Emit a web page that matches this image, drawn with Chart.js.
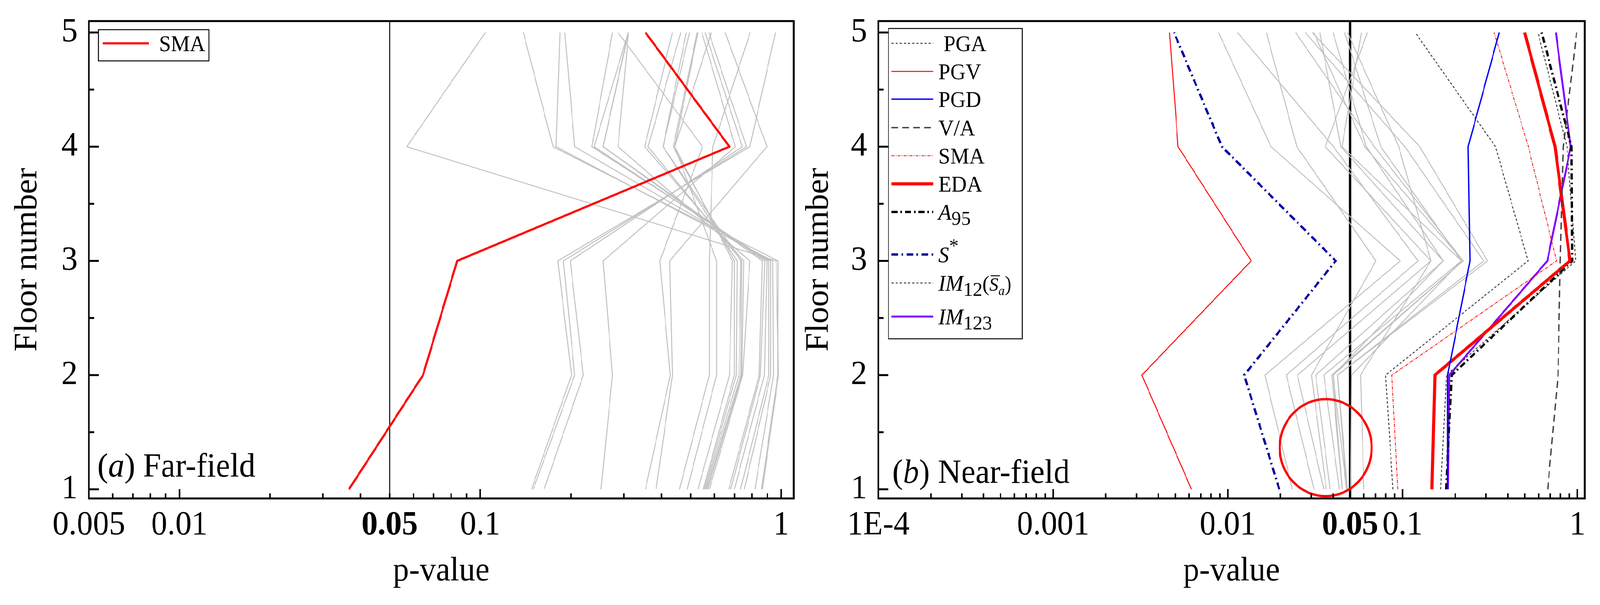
<!DOCTYPE html>
<html lang="en">
<head>
<meta charset="UTF-8">
<title>p-value by floor</title>
<script src="https://cdn.jsdelivr.net/npm/chart.js"></script>
<style>
  html, body { margin: 0; padding: 0; background: #fff; overflow: hidden; }
  #stage { position: absolute; left: 0; top: 0; width: 4268px; height: 1550px; transform-origin: 0 0; }
  .panel { position: absolute; top: 0; }
</style>
</head>
<body>
<div id="stage">
  <canvas id="farChart" class="panel" style="left:0" width="2134" height="1550"></canvas>
  <canvas id="nearChart" class="panel" style="left:2134px" width="2134" height="1550"></canvas>
</div>
<script>
// floors on the y axis, values per series are listed floor 1 -> floor 5
const floors = [1, 2, 3, 4, 5];

// (a) far-field
const farSMA = [0.0366, 0.0645, 0.0838, 0.673, 0.354];
const farOthers = [
  [0.148, 0.201, 0.181, 0.787, 0.957],
  [0.150, 0.206, 0.189, 0.767, 0.575],
  [0.163, 0.220, 0.199, 0.743, 0.559],
  [0.252, 0.275, 0.256, 0.704, 0.545],
  [0.354, 0.428, 0.395, 0.548, 0.287],
  [0.384, 0.435, 0.426, 0.897, 0.651],
  [0.459, 0.577, 0.577, 0.593, 0.789],
  [0.487, 0.610, 0.610, 0.443, 0.586],
  [0.529, 0.673, 0.689, 0.443, 0.529],
  [0.551, 0.699, 0.699, 0.438, 0.526],
  [0.556, 0.709, 0.714, 0.405, 0.496],
  [0.560, 0.724, 0.735, 0.405, 0.484],
  [0.565, 0.735, 0.740, 0.361, 0.464],
  [0.570, 0.740, 0.751, 0.352, 0.435],
  [0.577, 0.745, 0.787, 0.287, 0.311],
  [0.670, 0.845, 0.866, 0.256, 0.311],
  [0.680, 0.853, 0.882, 0.256, 0.310],
  [0.699, 0.879, 0.897, 0.239, 0.310],
  [0.733, 0.910, 0.910, 0.235, 0.275],
  [0.754, 0.923, 0.923, 0.206, 0.191],
  [0.818, 0.943, 0.937, 0.1786, 0.184],
  [0.866, 0.980, 0.963, 0.057, 0.104],
  [0.860, 0.975, 0.977, 0.1745, 0.139]
];

// (b) near-field
const nearPGA   = [0.0881, 0.0798, 0.522, 0.340, 0.118];
const nearPGV   = [0.00619, 0.00322, 0.0136, 0.00519, 0.00464];
const nearPGD   = [0.181, 0.181, 0.243, 0.237, 0.357];
const nearVA    = [0.676, 0.775, 0.798, 0.830, 0.99];
const nearSMA   = [0.0937, 0.0868, 0.760, 0.524, 0.334];
const nearEDA   = [0.147, 0.153, 0.907, 0.745, 0.499];
const nearA95   = [0.177, 0.191, 0.934, 0.925, 0.625];
const nearSstar = [0.0197, 0.0124, 0.0414, 0.00925, 0.00492];
const nearIM12  = [0.165, 0.178, 0.977, 0.872, 0.595];
const nearIM123 = [0.182, 0.185, 0.673, 0.916, 0.753];
const nearOthers = [
  [0.0234, 0.0163, 0.097, 0.01766, 0.00885],
  [0.0311, 0.0216, 0.1224, 0.0402, 0.01135],
  [0.0354, 0.0250, 0.1452, 0.0361, 0.0629],
  [0.0366, 0.0301, 0.0703, 0.0248, 0.0166],
  [0.0385, 0.0318, 0.1707, 0.0443, 0.0336],
  [0.0435, 0.0354, 0.2168, 0.0450, 0.0581],
  [0.0451, 0.0393, 0.2219, 0.0607, 0.0310],
  [0.0451, 0.0400, 0.1707, 0.0620, 0.0400],
  [0.0478, 0.0400, 0.2219, 0.0689, 0.0244],
  [0.0478, 0.0424, 0.291, 0.103, 0.0277],
  [0.0484, 0.0424, 0.306, 0.1253, 0.0304],
  [0.0503, 0.0510, 0.2168, 0.075, 0.0466],
  [0.0600, 0.0574, 0.1452, 0.095, 0.0484]
];

// tick labels
const farTickVals  = [0.005, 0.01, 0.05, 0.1, 1];
const nearTickVals = [0.0001, 0.001, 0.01, 0.05, 0.1, 1];
const tickText = {0.0001: '1E-4', 0.001: '0.001', 0.005: '0.005', 0.01: '0.01', 0.05: '0.05', 0.1: '0.1', 1: '1'};
const floorTicks = [1, 2, 3, 4, 5];

const FONT = '"Liberation Serif", "Times New Roman", serif';
const GRAY = '#C0C0C0';

// stretch the 4268x1550 drawing over whatever the window really is
const sx = window.innerWidth / 4268, sy = window.innerHeight / 1550;
document.getElementById('stage').style.transform = 'scale(' + sx + ',' + sy + ')';
const DPR = (window.devicePixelRatio || 1) * Math.max(sx, sy);

function pts(vals) {
  return vals.map((v, i) => ({x: v, y: floors[i]}));
}

function series(label, vals, color, width, dash) {
  return {
    label: label, data: pts(vals), showLine: true, borderColor: color,
    borderWidth: width, borderDash: dash || [], pointRadius: 0, tension: 0,
    borderCapStyle: 'butt', borderJoinStyle: 'miter', fill: false
  };
}

// draws a label made of pieces (italic, sub/superscript, overline)
function drawRich(ctx, segs, x, y, size) {
  segs.forEach(s => {
    const sz = size * (s.scale || 1);
    ctx.font = (s.it ? 'italic ' : '') + sz + 'px ' + FONT;
    const w = ctx.measureText(s.t).width;
    ctx.fillText(s.t, x, y + (s.dy || 0) * size);
    if (s.bar) ctx.fillRect(x + sz * 0.08, y - sz * 0.82, w, Math.max(2, sz * 0.05));
    x += w;
  });
}

const deco = {
  id: 'deco',
  beforeDatasetsDraw(chart, args, o) {
    const {ctx, chartArea: a, scales: {x}} = chart;
    const xr = x.getPixelForValue(0.05);
    ctx.save();
    ctx.strokeStyle = '#000';
    ctx.lineWidth = o.refWidth;
    ctx.beginPath();
    ctx.moveTo(xr, a.top);
    ctx.lineTo(xr, a.bottom);
    ctx.stroke();
    ctx.restore();
  },
  afterDatasetsDraw(chart, args, o) {
    const {ctx, chartArea: a, scales: {x, y}} = chart;
    ctx.save();

    // red ring around the low floor p-values
    if (o.ring) {
      const x0 = x.getPixelForValue(o.ring.x0), x1 = x.getPixelForValue(o.ring.x1);
      const y0 = y.getPixelForValue(o.ring.y0), y1 = y.getPixelForValue(o.ring.y1);
      ctx.strokeStyle = '#FF0000';
      ctx.lineWidth = 6;
      ctx.beginPath();
      ctx.ellipse((x0 + x1) / 2, (y0 + y1) / 2, Math.abs(x1 - x0) / 2, Math.abs(y1 - y0) / 2, 0, 0, Math.PI * 2);
      ctx.stroke();
    }

    // frame
    ctx.strokeStyle = '#000';
    ctx.lineWidth = 5;
    ctx.strokeRect(a.left, a.top, a.right - a.left, a.bottom - a.top);

    // inward ticks, floors
    ctx.lineWidth = 5;
    for (let f = 1; f <= 5; f += 0.5) {
      const py = y.getPixelForValue(f);
      const len = Number.isInteger(f) ? 27 : 14;
      ctx.beginPath();
      ctx.moveTo(a.left, py);
      ctx.lineTo(a.left + len, py);
      ctx.stroke();
    }
    // inward ticks, log p-value
    ctx.lineWidth = 4;
    const e0 = Math.floor(Math.log10(x.min)), e1 = Math.ceil(Math.log10(x.max));
    for (let e = e0; e <= e1; e++) {
      for (let m = 1; m <= 9; m++) {
        const v = m * Math.pow(10, e);
        if (v < x.min * 0.999 || v > x.max) continue;
        const px = x.getPixelForValue(v);
        const len = m === 1 ? 24 : 13;
        ctx.beginPath();
        ctx.moveTo(px, a.bottom);
        ctx.lineTo(px, a.bottom - len);
        ctx.stroke();
      }
    }

    // panel caption
    ctx.fillStyle = '#000';
    ctx.textBaseline = 'alphabetic';
    ctx.textAlign = 'left';
    drawRich(ctx, o.caption.segs, a.left + o.caption.dx, a.bottom - o.caption.dy, 86);

    // legend box
    const L = o.legend;
    const bx = a.left + L.dx, by = a.top + L.dy;
    ctx.fillStyle = '#fff';
    ctx.fillRect(bx, by, L.w, L.h);
    ctx.strokeStyle = '#000';
    ctx.lineWidth = 2.5;
    ctx.setLineDash([]);
    ctx.strokeRect(bx, by, L.w, L.h);
    L.items.forEach((it, i) => {
      const ds = chart.data.datasets[it.ds];
      const ly = by + L.rows[i];
      ctx.save();
      ctx.strokeStyle = ds.borderColor;
      ctx.lineWidth = ds.borderWidth;
      ctx.setLineDash(ds.borderDash);
      ctx.beginPath();
      ctx.moveTo(bx + L.x0, ly);
      ctx.lineTo(bx + L.x1, ly);
      ctx.stroke();
      ctx.restore();
      ctx.fillStyle = '#000';
      drawRich(ctx, it.segs, bx + L.tx, ly + 20, 57);
    });
    ctx.restore();
  }
};

function axes(xmin, xmax, tickVals, yWidth, yTitlePad) {
  return {
    x: {
      type: 'logarithmic', min: xmin, max: xmax,
      grid: {display: false, drawTicks: false}, border: {display: false},
      afterBuildTicks: s => { s.ticks = tickVals.map(v => ({value: v})); },
      afterFit: s => { s.height = 273; s.paddingLeft = 0; s.paddingRight = 0; },
      ticks: {
        autoSkip: false, maxRotation: 0, padding: 18, color: '#000',
        callback: v => tickText[v],
        font: c => ({family: FONT, size: 86, weight: (c.tick && c.tick.value === 0.05) ? 'bold' : 'normal'})
      },
      title: {display: true, text: 'p-value', color: '#000', font: {family: FONT, size: 86},
              padding: {top: 0, bottom: 34}}
    },
    y: {
      min: 0.92, max: 5.1,
      grid: {display: false, drawTicks: false}, border: {display: false},
      afterBuildTicks: s => { s.ticks = floorTicks.map(v => ({value: v})); },
      afterFit: s => { s.width = yWidth; s.paddingTop = 0; s.paddingBottom = 0; },
      ticks: {padding: 30, color: '#000', font: {family: FONT, size: 86}},
      title: {display: true, text: 'Floor number', color: '#000', font: {family: FONT, size: 86},
              padding: {top: yTitlePad, bottom: 0}}
    }
  };
}

const farSets = [series('SMA', farSMA, '#FF0000', 5.5)]
  .concat(farOthers.map((r, i) => series('far ' + (i + 1), r, GRAY, 2.5)));

new Chart(document.getElementById('farChart'), {
  type: 'scatter',
  data: {datasets: farSets},
  options: {
    responsive: false, animation: false, devicePixelRatio: DPR,
    layout: {padding: {top: 54, right: 17, left: 0, bottom: 0}},
    scales: axes(0.005, 1.1, farTickVals, 237, 23),
    plugins: {
      legend: {display: false}, tooltip: {enabled: false},
      deco: {
        refWidth: 2.5,
        caption: {dx: 23, dy: 56, segs: [{t: '('}, {t: 'a', it: true}, {t: ') Far-field'}]},
        legend: {dx: 26, dy: 22, w: 294, h: 80, x0: 11, x1: 134, tx: 161, rows: [35],
                 items: [{ds: 0, segs: [{t: 'SMA'}]}]}
      }
    }
  },
  plugins: [deco]
});

const nearSets = [
  series('PGA', nearPGA, '#404040', 2.5, [6, 5]),
  series('PGV', nearPGV, '#FF0000', 2.5),
  series('PGD', nearPGD, '#0000FF', 3.5),
  series('V/A', nearVA, '#404040', 3.5, [18, 11]),
  series('SMA', nearSMA, '#FF0000', 2, [8, 3, 2, 3]),
  series('EDA', nearEDA, '#FF0000', 8),
  series('A95', nearA95, '#000000', 6, [16, 8, 4, 8]),
  series('S*', nearSstar, '#000099', 6, [18, 9, 4, 9]),
  series('IM12', nearIM12, '#404040', 2.5, [6, 5]),
  series('IM123', nearIM123, '#8000FF', 5)
].concat(nearOthers.map((r, i) => series('near ' + (i + 1), r, GRAY, 2.5)));

new Chart(document.getElementById('nearChart'), {
  type: 'scatter',
  data: {datasets: nearSets},
  options: {
    responsive: false, animation: false, devicePixelRatio: DPR,
    layout: {padding: {top: 54, right: 41, left: 0, bottom: 0}},
    scales: axes(0.0001, 1.1, nearTickVals, 209, 0),
    plugins: {
      legend: {display: false}, tooltip: {enabled: false},
      deco: {
        refWidth: 6,
        ring: {x0: 0.0198, x1: 0.0665, y0: 0.94, y1: 1.79},
        caption: {dx: 37, dy: 40, segs: [{t: '('}, {t: 'b', it: true}, {t: ') Near-field'}]},
        legend: {
          dx: 27, dy: 19, w: 357, h: 795, x0: 8, x1: 119, tx: 133,
          rows: [38, 110, 181, 254, 326, 398, 470, 579, 652, 738],
          items: [
            {ds: 0, segs: [{t: ' PGA'}]},
            {ds: 1, segs: [{t: 'PGV'}]},
            {ds: 2, segs: [{t: 'PGD'}]},
            {ds: 3, segs: [{t: 'V/A'}]},
            {ds: 4, segs: [{t: 'SMA'}]},
            {ds: 5, segs: [{t: 'EDA'}]},
            {ds: 6, segs: [{t: 'A', it: true}, {t: '95', dy: 0.23, scale: 0.9}]},
            {ds: 7, segs: [{t: 'S', it: true}, {t: '*', dy: -0.45, scale: 0.9}]},
            {ds: 8, segs: [{t: 'IM', it: true}, {t: '12', dy: 0.23, scale: 0.9}, {t: '(', scale: 0.95},
                           {t: 'S', it: true, scale: 0.85, bar: true}, {t: 'a', it: true, dy: 0.2, scale: 0.6},
                           {t: ')', scale: 0.95}]},
            {ds: 9, segs: [{t: 'IM', it: true}, {t: '123', dy: 0.23, scale: 0.9}]}
          ]
        }
      }
    }
  },
  plugins: [deco]
});
</script>
</body>
</html>
